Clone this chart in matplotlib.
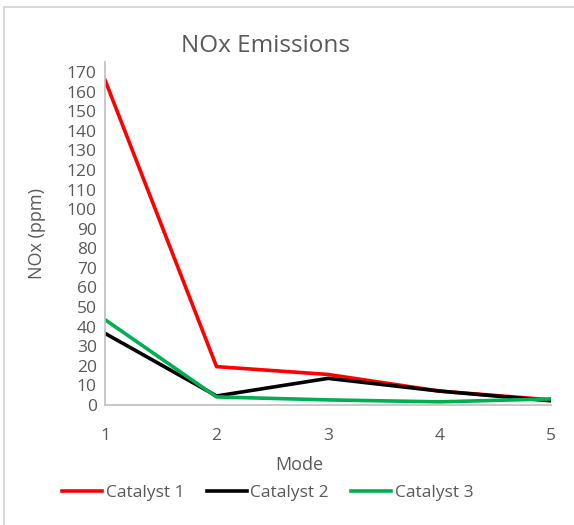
import matplotlib.pyplot as plt
from matplotlib.patches import Rectangle

plt.rcParams['font.family'] = ['Open Sans', 'DejaVu Sans']

modes = [1, 2, 3, 4, 5]
catalyst_1 = [166, 19.5, 15.5, 7, 2.5]
catalyst_2 = [36.5, 4.5, 13.5, 7, 2]
catalyst_3 = [43.5, 4, 2.5, 1.5, 3]
series = [("Catalyst 1", catalyst_1, "#ff0000"),
          ("Catalyst 2", catalyst_2, "#000000"),
          ("Catalyst 3", catalyst_3, "#00b050")]

fig = plt.figure(figsize=(5.74, 5.25), dpi=100)
ax = fig.add_axes([0.183, 0.229, 0.777, 0.652])

# light chart frame like the Excel export
fig.patches.append(Rectangle((0.007, -0.01), 1.1, 0.997, transform=fig.transFigure,
                             fill=False, edgecolor='#d9d9d9', linewidth=1.5))

for name, vals, col in series:
    ax.plot(modes, vals, color=col, linewidth=2.6, label=name)

ax.set_xlim(1, 5)
ax.set_ylim(0, 175)
ax.set_yticks(range(0, 171, 10))
ax.set_xticks(modes)
for s in ['top', 'right']:
    ax.spines[s].set_visible(False)
for s in ['left', 'bottom']:
    ax.spines[s].set_color('#bfbfbf')
    ax.spines[s].set_linewidth(1.2)
ax.tick_params(length=0, labelsize=12.5, labelcolor='#595959', pad=6)
ax.tick_params(axis='x', pad=17)

grey = '#595959'
ax.text(0.359, 1.047, 'NOx Emissions', transform=ax.transAxes, fontsize=17.5,
        color=grey, ha='center', va='center')
ax.set_xlabel('Mode', fontsize=13, color=grey)
ax.xaxis.set_label_coords(0.435, -0.175)
ax.xaxis.label.set_va('center')
ax.set_ylabel('NOx (ppm)', fontsize=13, color=grey)
ax.yaxis.set_label_coords(-0.152, 0.5)
ax.yaxis.label.set_va('center')

leg = ax.legend(loc='center', bbox_to_anchor=(0.365, -0.257), ncol=3, frameon=False,
                fontsize=12.5, handlelength=2.3, handletextpad=0.2, columnspacing=1.3)
for t in leg.get_texts():
    t.set_color(grey)

plt.savefig('out.png', dpi=100)
